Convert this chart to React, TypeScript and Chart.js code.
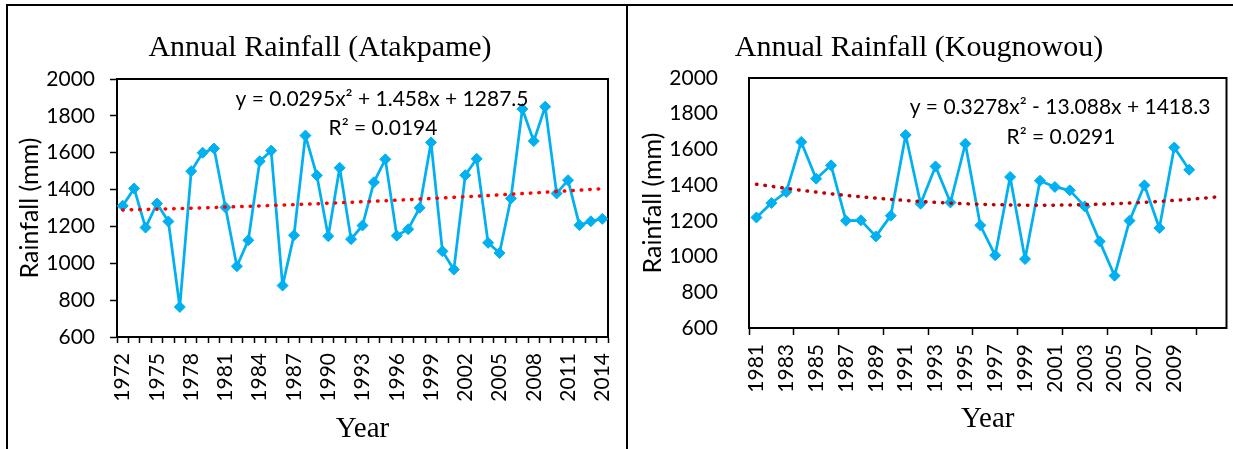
import React, { useEffect, useRef } from 'react';
import { Chart, registerables } from 'chart.js';

Chart.register(...registerables);

// ---------- Data ----------
const leftYears = [
  '1972', '1973', '1974', '1975', '1976', '1977', '1978', '1979', '1980', '1981',
  '1982', '1983', '1984', '1985', '1986', '1987', '1988', '1989', '1990', '1991',
  '1992', '1993', '1994', '1995', '1996', '1997', '1998', '1999', '2000', '2001',
  '2002', '2003', '2004', '2005', '2006', '2007', '2008', '2009', '2010', '2011',
  '2012', '2013', '2014',
];
const leftRain = [
  1312, 1406, 1194, 1324, 1227, 763, 1500, 1600, 1623, 1303,
  984, 1125, 1554, 1611, 879, 1152, 1693, 1477, 1147, 1518,
  1131, 1205, 1440, 1564, 1150, 1185, 1301, 1656, 1065, 966,
  1478, 1567, 1111, 1056, 1352, 1837, 1663, 1850, 1379, 1451,
  1207, 1228, 1241,
];
const leftTrend = [
  1289.0, 1290.5, 1292.1, 1293.8, 1295.5, 1297.3, 1299.2, 1301.1, 1303.0, 1305.0,
  1307.1, 1309.2, 1311.4, 1313.7, 1316.0, 1318.4, 1320.8, 1323.3, 1325.9, 1328.5,
  1331.1, 1333.9, 1336.6, 1339.5, 1342.4, 1345.4, 1348.4, 1351.5, 1354.6, 1357.8,
  1361.1, 1364.4, 1367.7, 1371.2, 1374.7, 1378.2, 1381.8, 1385.5, 1389.2, 1393.0,
  1396.9, 1400.8, 1404.7,
];

const rightYears = [
  '1981', '1982', '1983', '1984', '1985', '1986', '1987', '1988', '1989', '1990',
  '1991', '1992', '1993', '1994', '1995', '1996', '1997', '1998', '1999', '2000',
  '2001', '2002', '2003', '2004', '2005', '2006', '2007', '2008', '2009', '2010',
  '2011', '2012',
];
const rightRain = [
  1219, 1300, 1362, 1642, 1436, 1511, 1201, 1203, 1113, 1229,
  1681, 1296, 1505, 1303, 1632, 1175, 1007, 1446, 986, 1425,
  1390, 1371, 1281, 1085, 893, 1201, 1399, 1160, 1611, 1486,
];
const rightTrend = [
  1405.5, 1393.4, 1382.0, 1371.2, 1361.1, 1351.6, 1342.7, 1334.6, 1327.1, 1320.2,
  1314.0, 1308.4, 1303.6, 1299.3, 1295.7, 1292.8, 1290.5, 1288.9, 1288.0, 1287.7,
  1288.0, 1289.0, 1290.7, 1293.0, 1296.0, 1299.6, 1303.9, 1308.8, 1314.4, 1320.7,
  1327.6, 1335.1,
];

const yMin = 600;
const yMax = 2000;
const yStep = 200;

const leftTitle = 'Annual Rainfall (Atakpame)';
const rightTitle = 'Annual Rainfall (Kougnowou)';
const leftEquation = 'y = 0.0295x² + 1.458x + 1287.5';
const leftR2 = 'R² = 0.0194';
const rightEquation = 'y = 0.3278x² - 13.088x + 1418.3';
const rightR2 = 'R² = 0.0291';

// ---------- Styling ----------
const SERIES_COLOR = '#00B0F0';
const SANS = 'Lato';
const SERIF = '"Liberation Serif", "Times New Roman", serif';

type TextItem = { text: string; x: number; y: number; font: string };

const makeTextPlugin = (items: TextItem[]) => ({
  id: 'texts',
  afterDraw(chart: any) {
    const ctx = chart.ctx;
    ctx.save();
    ctx.fillStyle = '#000';
    ctx.textAlign = 'center';
    ctx.textBaseline = 'middle';
    for (const t of items) {
      ctx.font = t.font;
      ctx.fillText(t.text, t.x, t.y);
    }
    ctx.restore();
  },
});

const framePlugin = {
  id: 'frame',
  beforeDatasetsDraw(chart: any) {
    const { left, top, right, bottom } = chart.chartArea;
    const ctx = chart.ctx;
    ctx.save();
    ctx.strokeStyle = '#000';
    ctx.lineWidth = 2;
    ctx.strokeRect(left, top, right - left, bottom - top);
    ctx.restore();
  },
};

type ChartProps = {
  left: number;
  width: number;
  labels: string[];
  rain: number[];
  trend: number[];
  trendColor: string;
  areaTop: number;
  padRight: number;
  yAxisWidth: number;
  xAxisHeight: number;
  yTickMarks: boolean;
  yLabelPadding: number;
  yTitlePad: number;
  xTickLength: number;
  xLabelPadding: number;
  xTickEvery: number;
  xLabelEvery: number;
  yearTitlePad: number;
  texts: TextItem[];
};

function RainChart(p: ChartProps) {
  const ref = useRef<HTMLCanvasElement>(null);
  useEffect(() => {
    if (!ref.current) return;
    const dataCount = p.rain.length;
    const chart = new Chart(ref.current, {
      type: 'line',
      data: {
        labels: p.labels,
        datasets: [
          {
            data: p.trend,
            borderColor: p.trendColor,
            borderWidth: 3.5,
            borderDash: [0.5, 8],
            borderCapStyle: 'round',
            pointRadius: 0,
            fill: false,
            tension: 0,
            order: 0,
          },
          {
            data: p.rain,
            borderColor: SERIES_COLOR,
            backgroundColor: SERIES_COLOR,
            borderWidth: 2.75,
            borderJoinStyle: 'round',
            pointStyle: 'rectRot',
            pointRadius: 5.5,
            pointBorderWidth: 1,
            pointBackgroundColor: SERIES_COLOR,
            pointBorderColor: SERIES_COLOR,
            fill: false,
            tension: 0,
            order: 1,
          },
        ],
      } as any,
      options: {
        animation: false,
        responsive: false,
        layout: { padding: { left: 0, right: p.padRight, top: p.areaTop, bottom: 0 } },
        plugins: {
          legend: { display: false },
          tooltip: { enabled: false },
          title: { display: false },
        },
        scales: {
          x: {
            type: 'category',
            offset: true,
            grid: {
              display: true,
              offset: true,
              drawOnChartArea: false,
              drawTicks: true,
              tickLength: p.xTickLength,
              tickWidth: 1.5,
              color: '#000',
              tickColor: (ctx: any) =>
                p.xTickEvery === 1 ||
                (ctx.index !== undefined && ctx.index % p.xTickEvery === 0)
                  ? '#000'
                  : 'rgba(0,0,0,0)',
            },
            border: { display: true, color: '#000', width: 2 },
            ticks: {
              autoSkip: false,
              minRotation: 90,
              maxRotation: 90,
              padding: p.xLabelPadding,
              color: '#000',
              font: { family: SANS, size: 21 },
              callback: (_v: any, i: number) =>
                i % p.xLabelEvery === 0 && i < dataCount ? p.labels[i] : '',
            },
            title: {
              display: true,
              text: 'Year',
              color: '#000',
              font: { family: SERIF, size: 29 },
              padding: { top: 0, bottom: p.yearTitlePad },
            },
            afterFit: (s: any) => {
              s.height = p.xAxisHeight;
              s.paddingLeft = 0;
              s.paddingRight = 0;
            },
          },
          y: {
            min: yMin,
            max: yMax,
            grid: {
              display: p.yTickMarks,
              drawOnChartArea: false,
              drawTicks: true,
              tickLength: 7,
              tickWidth: 1.5,
              color: '#000',
              tickColor: '#000',
            },
            border: { display: true, color: '#000', width: 2 },
            ticks: {
              stepSize: yStep,
              padding: p.yLabelPadding,
              color: '#000',
              font: { family: SANS, size: 21 },
              callback: (v: any) => String(v),
            },
            title: {
              display: true,
              text: 'Rainfall (mm)',
              color: '#000',
              font: { family: SANS, size: 25 },
              padding: { top: p.yTitlePad, bottom: 0 },
            },
            afterFit: (s: any) => {
              s.width = p.yAxisWidth;
            },
          },
        },
      } as any,
      plugins: [framePlugin, makeTextPlugin(p.texts)],
    });
    return () => chart.destroy();
  }, []);
  return (
    <div style={{ position: 'absolute', left: p.left, top: 0, width: p.width, height: 449 }}>
      <canvas ref={ref} width={p.width} height={449} style={{ display: 'block' }} />
    </div>
  );
}

export default function App() {
  return (
    <div
      style={{
        position: 'fixed',
        left: 0,
        top: 0,
        width: 1233,
        height: 449,
        background: '#fff',
        overflow: 'hidden',
      }}
    >
      <RainChart
        left={0}
        width={627}
        labels={leftYears}
        rain={leftRain}
        trend={leftTrend}
        trendColor="#FF0000"
        areaTop={79}
        padRight={19}
        yAxisWidth={117}
        xAxisHeight={112}
        yTickMarks={true}
        yLabelPadding={15}
        yTitlePad={15}
        xTickLength={6}
        xLabelPadding={10}
        xTickEvery={1}
        xLabelEvery={3}
        yearTitlePad={2}
        texts={[
          { text: leftTitle, x: 320, y: 48, font: `30px ${SERIF}` },
          { text: leftEquation, x: 382, y: 99, font: `21px ${SANS}` },
          { text: leftR2, x: 383, y: 128, font: `21px ${SANS}` },
        ]}
      />
      <RainChart
        left={628}
        width={605}
        labels={rightYears}
        rain={rightRain}
        trend={rightTrend}
        trendColor="#C00000"
        areaTop={78}
        padRight={6}
        yAxisWidth={121}
        xAxisHeight={121}
        yTickMarks={false}
        yLabelPadding={24}
        yTitlePad={10}
        xTickLength={7}
        xLabelPadding={9}
        xTickEvery={3}
        xLabelEvery={2}
        yearTitlePad={12}
        texts={[
          { text: rightTitle, x: 291, y: 48, font: `30px ${SERIF}` },
          { text: rightEquation, x: 432, y: 107, font: `21px ${SANS}` },
          { text: rightR2, x: 433, y: 137, font: `21px ${SANS}` },
        ]}
      />
      {/* page frame lines */}
      <div style={{ position: 'absolute', left: 6, top: 4, width: 1227, height: 2, background: '#000' }} />
      <div style={{ position: 'absolute', left: 6, top: 4, width: 2, height: 445, background: '#000' }} />
      <div style={{ position: 'absolute', left: 626, top: 4, width: 2, height: 445, background: '#000' }} />
    </div>
  );
}
